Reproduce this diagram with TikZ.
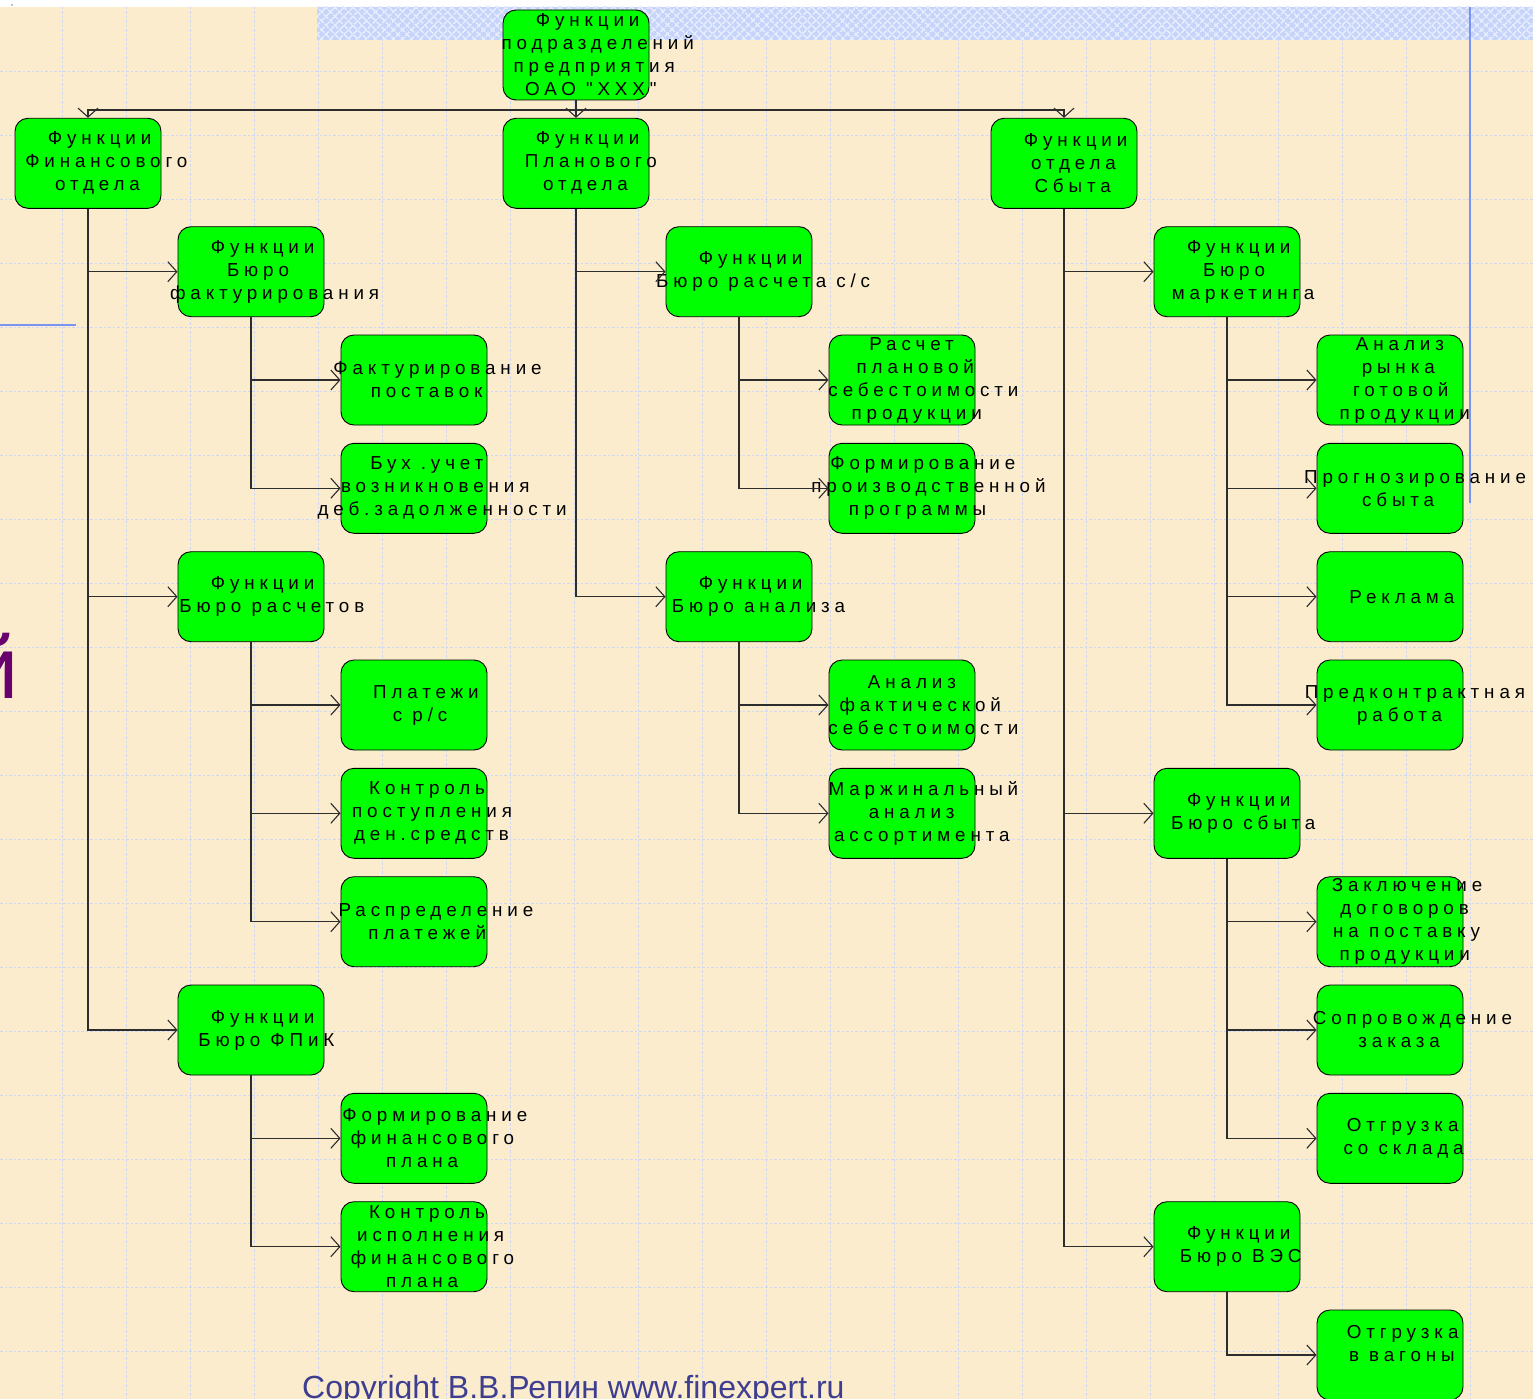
\documentclass[tikz,border=0pt]{standalone}
\usepackage{fontspec}
\setmainfont{Liberation Sans}
\newfontfamily\boxfont{Liberation Sans}[LetterSpace=26]
\usetikzlibrary{arrows.meta,patterns.meta}

\definecolor{paper}{RGB}{251,236,205}
\definecolor{gridblue}{RGB}{206,215,246}
\definecolor{bandblue}{RGB}{198,212,250}
\definecolor{bandlight}{RGB}{230,236,253}
\definecolor{rulerblue}{RGB}{120,148,240}
\definecolor{boxgreen}{RGB}{0,255,0}
\definecolor{wire}{RGB}{45,45,45}
\definecolor{plum}{RGB}{104,0,110}
\definecolor{credit}{RGB}{62,62,145}

% each line is pushed right by a share of its own width
\newlength\tlw
\newcommand\tln[1]{\settowidth{\tlw}{#1}\hspace*{0.226\tlw}#1}
% a green function box with its label
\newcommand\fnode[4]{%
  \node[funcbox] (#1) at (#2,#3) {};
  \node[ftext] at (#1) {#4};}

\begin{document}
\begin{tikzpicture}[x=1pt,y=-1pt,
  funcbox/.style={draw=black, line width=0.9pt, fill=boxgreen,
    rounded corners=13pt, minimum width=146pt, minimum height=90pt,
    inner sep=0pt},
  ftext/.style={align=center, inner sep=0pt,
    font=\boxfont\fontsize{18.8}{23}\selectfont},
  conn/.style={draw=wire, line width=1.1pt},
  arr/.style={conn, -{Straight Barb[length=9pt,width=20pt]}},
  gridline/.style={draw=gridblue, line width=0.8pt, dash pattern=on 2.5pt off 2pt}]

\useasboundingbox (0,0) rectangle (1533,1399);
\clip (0,0) rectangle (1533,1399);

% page background
\fill[white] (0,0) rectangle (1533,1399);
\fill[paper] (0,7) rectangle (1533,1399);
\foreach \k in {0,...,23} \draw[gridline] (62+64*\k,7) -- (62+64*\k,1399);
\foreach \j in {1,...,21} \draw[gridline] (0,7+64*\j) -- (1533,7+64*\j);
\fill[bandblue] (317,7) rectangle (1533,40);
\fill[pattern={Lines[angle=45,distance=6.5pt,line width=1.6pt]}, pattern color=bandlight] (317,7) rectangle (1533,40);
\fill[pattern={Lines[angle=-45,distance=6.5pt,line width=1.6pt]}, pattern color=bandlight] (317,7) rectangle (1533,40);
\draw[rulerblue, line width=2pt] (1470,7) -- (1470,503);
\draw[rulerblue, line width=2pt] (0,325) -- (76,325);
\fill[gray] (12,5) circle (0.8pt);
\node[anchor=base east, inner sep=0pt, text=plum, font=\fontsize{88}{92}\selectfont] (letter) at (19,698) {й};
\node[anchor=base west, inner sep=0pt, text=credit, font=\fontsize{32}{34}\selectfont] (credit) at (302,1398) {Copyright В.В.Репин www.finexpert.ru};

% root
\fnode{root}{576}{55}{\tln{Функции}\\\tln{подразделений}\\\tln{предприятия}\\\tln{ОАО "XXX"}}

% finance department
\fnode{f1}{88}{163.3}{\tln{Функции}\\\tln{Финансового}\\\tln{отдела}}
\fnode{f11}{251}{271.7}{\tln{Функции}\\\tln{Бюро}\\\tln{фактурирования}}
\fnode{f111}{414}{380}{\tln{Фактурирование}\\\tln{поставок}}
\fnode{f112}{414}{488.3}{\tln{Бух .учет}\\\tln{возникновения}\\\tln{деб.задолженности}}
\fnode{f12}{251}{596.7}{\tln{Функции}\\\tln{Бюро расчетов}}
\fnode{f121}{414}{705}{\tln{Платежи}\\\tln{с р/с}}
\fnode{f122}{414}{813.3}{\tln{Контроль}\\\tln{поступления}\\\tln{ден.средств}}
\fnode{f123}{414}{921.7}{\tln{Распределение}\\\tln{платежей}}
\fnode{f13}{251}{1030}{\tln{Функции}\\\tln{Бюро ФПиК}}
\fnode{f131}{414}{1138.3}{\tln{Формирование}\\\tln{финансового}\\\tln{плана}}
\fnode{f132}{414}{1246.7}{\tln{Контроль}\\\tln{исполнения}\\\tln{финансового}\\\tln{плана}}

% planning department
\fnode{p1}{576}{163.3}{\tln{Функции}\\\tln{Планового}\\\tln{отдела}}
\fnode{p11}{739}{271.7}{\tln{Функции}\\\tln{Бюро расчета с/с}}
\fnode{p111}{902}{380}{\tln{Расчет}\\\tln{плановой}\\\tln{себестоимости}\\\tln{продукции}}
\fnode{p112}{902}{488.3}{\tln{Формирование}\\\tln{производственной}\\\tln{программы}}
\fnode{p12}{739}{596.7}{\tln{Функции}\\\tln{Бюро анализа}}
\fnode{p121}{902}{705}{\tln{Анализ}\\\tln{фактической}\\\tln{себестоимости}}
\fnode{p122}{902}{813.3}{\tln{Маржинальный}\\\tln{анализ}\\\tln{ассортимента}}

% sales department
\fnode{s1}{1064}{163.3}{\tln{Функции}\\\tln{отдела}\\\tln{Сбыта}}
\fnode{s11}{1227}{271.7}{\tln{Функции}\\\tln{Бюро}\\\tln{маркетинга}}
\fnode{s111}{1390}{380}{\tln{Анализ}\\\tln{рынка}\\\tln{готовой}\\\tln{продукции}}
\fnode{s112}{1390}{488.3}{\tln{Прогнозирование}\\\tln{сбыта}}
\fnode{s113}{1390}{596.7}{\tln{Реклама}}
\fnode{s114}{1390}{705}{\tln{Предконтрактная}\\\tln{работа}}
\fnode{s12}{1227}{813.3}{\tln{Функции}\\\tln{Бюро сбыта}}
\fnode{s121}{1390}{921.7}{\tln{Заключение}\\\tln{договоров}\\\tln{на поставку}\\\tln{продукции}}
\fnode{s122}{1390}{1030}{\tln{Сопровождение}\\\tln{заказа}}
\fnode{s123}{1390}{1138.3}{\tln{Отгрузка}\\\tln{со склада}}
\fnode{s13}{1227}{1246.7}{\tln{Функции}\\\tln{Бюро ВЭС}}
\node[funcbox] (s131) at (1390,1355) {};
\node[ftext] (s131t) at (1390,1344) {\tln{Отгрузка}\\\tln{в вагоны}};

% connectors
\coordinate (bus) at (576,110);
\draw[conn] (root) -- (bus);
\draw[arr] (bus) -| (f1);
\draw[arr] (bus) -- (p1);
\draw[arr] (bus) -| (s1);

\foreach \a/\b in {f1/f11,f1/f12,f1/f13,f11/f111,f11/f112,f12/f121,f12/f122,f12/f123,
  f13/f131,f13/f132,p1/p11,p1/p12,p11/p111,p11/p112,p12/p121,p12/p122,
  s1/s11,s1/s12,s1/s13,s11/s111,s11/s112,s11/s113,s11/s114,
  s12/s121,s12/s122,s12/s123,s13/s131}
  \draw[arr] (\a.south) |- (\b);

\end{tikzpicture}
\end{document}
